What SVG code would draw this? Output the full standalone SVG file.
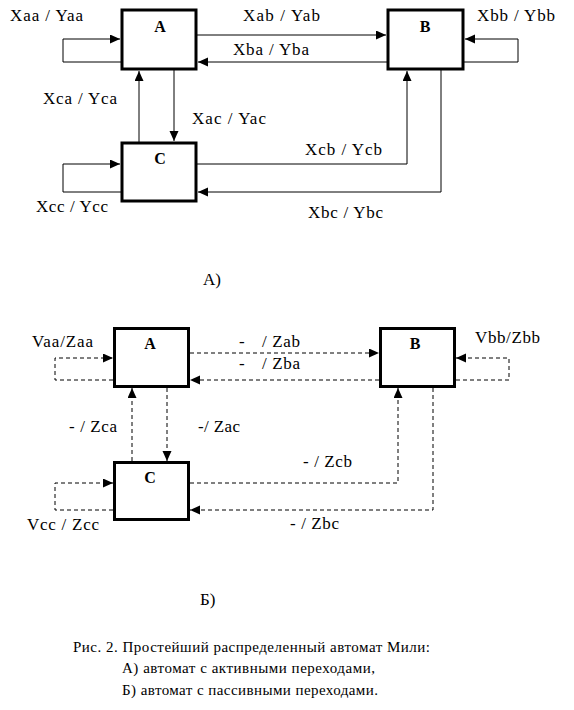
<svg xmlns="http://www.w3.org/2000/svg" width="574" height="710" viewBox="0 0 574 710">
<style>
text{font-family:"Liberation Serif","Times New Roman",serif;font-size:17px;fill:#000}
.lbl{font-weight:bold;font-size:16px;text-anchor:middle}
.box{fill:#fff;stroke:#000;stroke-width:3}
.cap{font-size:15px}
#connectors path{fill:none;stroke:#000;stroke-width:1;marker-end:url(#ah)}
#connectors .d{stroke-dasharray:4,3}
</style>
<defs>
<marker id="ah" markerUnits="userSpaceOnUse" markerWidth="11" markerHeight="10" refX="10" refY="4.5" orient="auto">
<path d="M0,0 L10,4.5 L0,9 z" fill="#000"/>
</marker>
</defs>
<rect width="574" height="710" fill="#fff"/>
<g id="connectors">
<path d="M121,62 H63 V39 H120"/>
<path d="M197,35 H386"/>
<path d="M387,62 H198"/>
<path d="M464,62 H518 V39 H465"/>
<path d="M139,142 V71"/>
<path d="M174,70 V141"/>
<path d="M121,192 H63 V164 H120"/>
<path d="M197,164 H407 V71"/>
<path d="M441,70 V192 H198"/>
<path class="d" d="M113,380 H55 V358 H113"/>
<path class="d" d="M190,353 H379"/>
<path class="d" d="M379,380 H190"/>
<path class="d" d="M456,380 H509 V358 H456"/>
<path class="d" d="M132,461 V388"/>
<path class="d" d="M167,388 V461"/>
<path class="d" d="M113,510 H55 V483 H113"/>
<path class="d" d="M190,483 H398 V388"/>
<path class="d" d="M433,388 V510 H190"/>
</g>
<g id="topA"><rect class="box" x="122" y="10" width="74" height="59"/><text class="lbl" x="160" y="32">A</text></g>
<g id="topB"><rect class="box" x="388" y="10" width="75" height="59"/><text class="lbl" x="425" y="32">B</text></g>
<g id="topC"><rect class="box" x="122" y="143" width="74" height="58"/><text class="lbl" x="160" y="164">C</text></g>
<g id="botA"><rect class="box" x="114.5" y="328.5" width="74" height="58"/><text class="lbl" x="150" y="349">A</text></g>
<g id="botB"><rect class="box" x="380.5" y="328.5" width="74" height="58"/><text class="lbl" x="415" y="349">B</text></g>
<g id="botC"><rect class="box" x="114.5" y="462.5" width="74" height="57"/><text class="lbl" x="150" y="483">C</text></g>
<g id="labels">
<text x="10" y="21" textLength="73" lengthAdjust="spacing">Xaa / Yaa</text>
<text x="243" y="21" textLength="77" lengthAdjust="spacing">Xab / Yab</text>
<text x="233" y="55" textLength="76" lengthAdjust="spacing">Xba / Yba</text>
<text x="477" y="21" textLength="78" lengthAdjust="spacing">Xbb / Ybb</text>
<text x="43" y="104" textLength="74" lengthAdjust="spacing">Xca / Yca</text>
<text x="192" y="124" textLength="74" lengthAdjust="spacing">Xac / Yac</text>
<text x="305" y="155" textLength="77" lengthAdjust="spacing">Xcb / Ycb</text>
<text x="36" y="212" textLength="72" lengthAdjust="spacing">Xcc / Ycc</text>
<text x="308" y="218" textLength="75" lengthAdjust="spacing">Xbc / Ybc</text>
<text x="203" y="285">А)</text>
<text x="32" y="347" textLength="61" lengthAdjust="spacing">Vaa/Zaa</text>
<text x="239" y="347">-</text>
<text x="262" y="347" textLength="38" lengthAdjust="spacing">/ Zab</text>
<text x="239" y="369">-</text>
<text x="262" y="369" textLength="38" lengthAdjust="spacing">/ Zba</text>
<text x="475" y="343" textLength="65" lengthAdjust="spacing">Vbb/Zbb</text>
<text x="69" y="432" textLength="48" lengthAdjust="spacing">- / Zca</text>
<text x="198" y="432" textLength="42" lengthAdjust="spacing">-/ Zac</text>
<text x="303" y="467" textLength="49" lengthAdjust="spacing">- / Zcb</text>
<text x="27" y="530" textLength="72" lengthAdjust="spacing">Vcc / Zcc</text>
<text x="290" y="529" textLength="49" lengthAdjust="spacing">- / Zbc</text>
<text x="200" y="605">Б)</text>
</g>
<g id="caption">
<text class="cap" x="73" y="652" textLength="357" lengthAdjust="spacing">Рис. 2. Простейший распределенный автомат Мили:</text>
<text class="cap" x="122" y="673" textLength="253" lengthAdjust="spacing">А) автомат с активными переходами,</text>
<text class="cap" x="122" y="695" textLength="256" lengthAdjust="spacing">Б) автомат с пассивными переходами.</text>
</g>
</svg>
